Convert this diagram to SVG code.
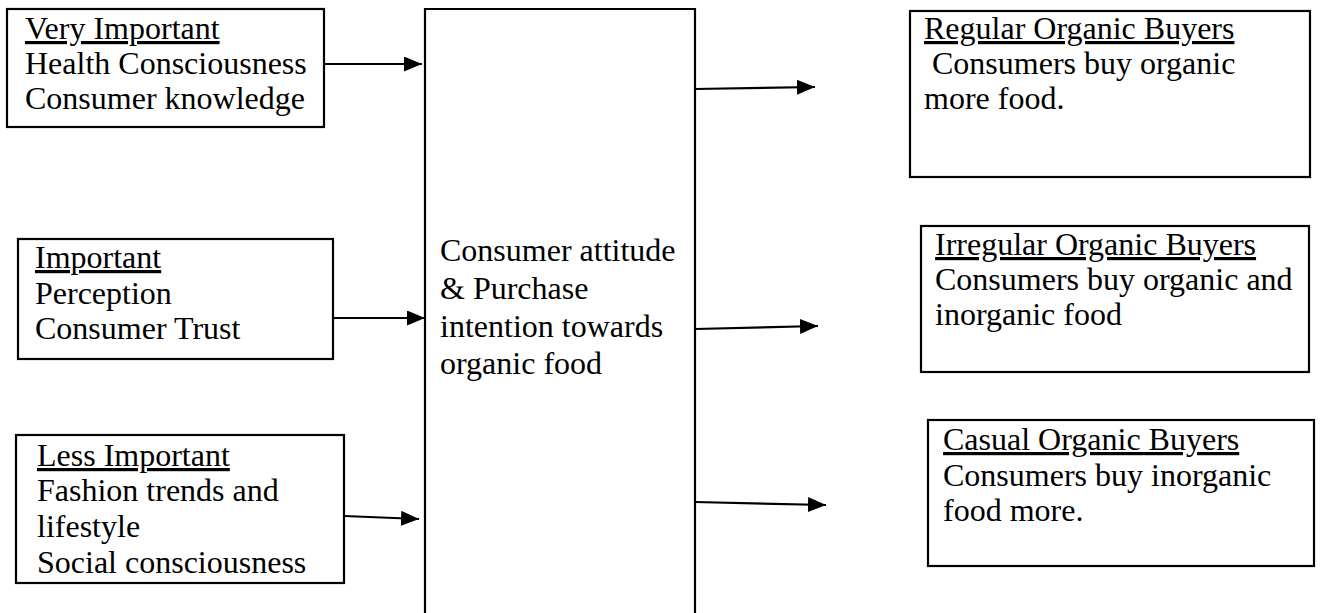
<svg xmlns="http://www.w3.org/2000/svg" width="1333" height="613" viewBox="0 0 1333 613">
<defs>
<style>
text{font-family:"Liberation Serif","Times New Roman",serif;font-size:32px;fill:#000}
.h{text-decoration:underline}
.box{fill:#fff;stroke:#000;stroke-width:2.2}
.con{fill:none;stroke:#000;stroke-width:2.2}
</style>
<marker id="ah" markerUnits="userSpaceOnUse" markerWidth="19" markerHeight="15" refX="18" refY="7.5" orient="auto">
<path d="M0,0 L18,7.5 L0,15 z" fill="#000"/>
</marker>
</defs>
<rect width="1333" height="613" fill="#fff"/>
<g id="center">
<path class="con" d="M425,613 V9 H695 V613"/>
<text x="440" y="261">Consumer attitude</text>
<text x="440" y="299">&amp; Purchase</text>
<text x="440" y="337">intention towards</text>
<text x="440" y="374">organic food</text>
</g>
<g id="very-important">
<rect class="box" x="7" y="9" width="317" height="118"/>
<text class="h" x="25" y="39">Very Important</text>
<text x="25" y="74">Health Consciousness</text>
<text x="25" y="109">Consumer knowledge</text>
</g>
<g id="important">
<rect class="box" x="18" y="239" width="315" height="120"/>
<text class="h" x="35" y="268">Important</text>
<text x="35" y="304">Perception</text>
<text x="35" y="339">Consumer Trust</text>
</g>
<g id="less-important">
<rect class="box" x="16" y="435" width="328" height="148"/>
<text class="h" x="37" y="466">Less Important</text>
<text x="37" y="501">Fashion trends and</text>
<text x="37" y="537">lifestyle</text>
<text x="37" y="573">Social consciousness</text>
</g>
<g id="regular">
<rect class="box" x="910" y="11" width="400" height="166"/>
<text class="h" x="924" y="39">Regular Organic Buyers</text>
<text x="924" y="74" xml:space="preserve"> Consumers buy organic</text>
<text x="924" y="109">more food.</text>
</g>
<g id="irregular">
<rect class="box" x="921" y="226" width="388" height="146"/>
<text class="h" x="935" y="255">Irregular Organic Buyers</text>
<text x="935" y="290">Consumers buy organic and</text>
<text x="935" y="325">inorganic food</text>
</g>
<g id="casual">
<rect class="box" x="928" y="420" width="386" height="146"/>
<text class="h" x="943" y="450">Casual Organic Buyers</text>
<text x="943" y="486">Consumers buy inorganic</text>
<text x="943" y="521">food more.</text>
</g>
<g id="connectors">
<line class="con" x1="323" y1="64" x2="422" y2="64" marker-end="url(#ah)"/>
<line class="con" x1="333" y1="318" x2="425" y2="318" marker-end="url(#ah)"/>
<line class="con" x1="344" y1="516" x2="419" y2="519" marker-end="url(#ah)"/>
<line class="con" x1="695" y1="89" x2="815" y2="87" marker-end="url(#ah)"/>
<line class="con" x1="695" y1="329" x2="818" y2="326" marker-end="url(#ah)"/>
<line class="con" x1="695" y1="502" x2="826" y2="505" marker-end="url(#ah)"/>
</g>
</svg>
